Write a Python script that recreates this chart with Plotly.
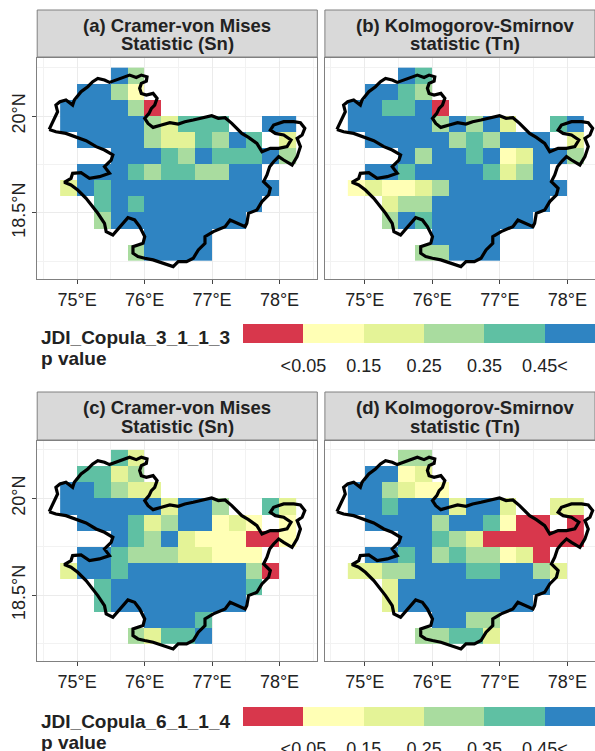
import plotly.graph_objects as go

W, H = 595, 751
H_LAYOUT = 760

# p-value classes: 0 <0.05, 1 0.15, 2 0.25, 3 0.35, 4 0.45, 5 >0.45, '.' no data
lon_centers = [74.875, 75.125, 75.375, 75.625, 75.875, 76.125, 76.375, 76.625, 76.875, 77.125, 77.375, 77.625, 77.875, 78.125]
lat_centers = [20.625, 20.375, 20.125, 19.875, 19.625, 19.375, 19.125, 18.875, 18.625, 18.375, 18.125, 17.875]

panel_a = ["...53.........", ".5531.........", "555530........", "5555532444..55",
           ".55553224354.2", "...55543544453", ".55543443355..", "254555555555 5.".replace(" ", "")[:14],
           "..454555555 5..".replace(" ", "")[:14], "..355555555...", ".....5555.....", "....35555....."]
panel_b = ["...54.........", ".5543.........", "554450........", "5555535352..45",
           ".55555343555.2", "...53554512553", ".55455554235..", "1211235555555.",
           "..2335555555..", "..354555555...", ".....5555.....", "....33555....."]
panel_c = ["...42.........", ".4423.........", "554322........", "5555552553..42",
           ".55542355121.1", "...54352111001", ".55433322111..", "2554555555530.",
           "..4555555554..", "..455555555...", ".....5554.....", "....32445....."]
panel_d = ["...33.........", ".5512.........", "553211........", "55455525 52..22".replace(" ", ""),
           ".55553554100.0", "...55432000000", ".55453433120..", "2233555445532.",
           "..2555555555..", "..255555555...", ".....5533.....", "....33442....."]

outline_lon = [74.588, 74.628, 74.663, 74.712, 74.687, 74.747, 74.836, 74.935, 74.960, 75.060, 75.159, 75.233,
               75.308, 75.407, 75.481, 75.581, 75.680, 75.779, 75.878, 75.953, 76.037, 76.027, 75.953, 75.928,
               75.953, 76.027, 76.127, 76.186, 76.151, 76.102, 76.067, 76.003, 76.052, 76.127, 76.251, 76.375,
               76.499, 76.598, 76.722, 76.846, 76.995, 77.094, 77.194, 77.293, 77.367, 77.442, 77.541, 77.665,
               77.740, 77.864, 77.988, 78.112, 78.171, 78.062, 77.938, 77.864, 77.913, 78.062, 78.211, 78.310,
               78.375, 78.335, 78.261, 78.310, 78.261, 78.186, 78.062, 77.988, 77.913, 77.854, 77.814, 77.764,
               77.864, 77.839, 77.740, 77.665, 77.541, 77.516, 77.491, 77.367, 77.268, 77.194, 77.020, 76.896,
               76.896, 76.797, 76.722, 76.623, 76.499, 76.424, 76.275, 76.127, 76.003, 75.903, 75.829, 75.829,
               75.978, 76.003, 75.928, 75.854, 75.754, 75.655, 75.531, 75.432, 75.407, 75.308, 75.233, 75.134,
               75.010, 74.911, 74.811, 74.911, 74.935, 75.060, 75.184, 75.333, 75.481, 75.407, 75.506, 75.531,
               75.407, 75.283, 75.134, 75.010, 74.836, 74.687, 74.588]
outline_lat = [19.793, 19.876, 19.964, 20.067, 20.170, 20.222, 20.248, 20.170, 20.248, 20.377, 20.455, 20.532,
               20.584, 20.558, 20.522, 20.558, 20.594, 20.635, 20.599, 20.635, 20.609, 20.542, 20.506, 20.429,
               20.351, 20.325, 20.351, 20.274, 20.170, 20.119, 20.041, 19.964, 19.886, 19.824, 19.861, 19.897,
               19.876, 19.912, 19.938, 19.964, 20.005, 19.964, 19.974, 19.886, 19.809, 19.731, 19.669, 19.576,
               19.447, 19.499, 19.499, 19.525, 19.628, 19.706, 19.731, 19.783, 19.861, 19.912, 19.912, 19.897,
               19.809, 19.706, 19.654, 19.525, 19.370, 19.241, 19.318, 19.370, 19.292, 19.215, 19.086, 18.983,
               18.879, 18.776, 18.673, 18.543, 18.492, 18.337, 18.285, 18.337, 18.389, 18.285, 18.208, 18.130,
               18.027, 17.924, 17.795, 17.743, 17.743, 17.665, 17.717, 17.769, 17.795, 17.820, 17.872, 17.975,
               18.027, 18.130, 18.285, 18.389, 18.425, 18.311, 18.156, 18.208, 18.337, 18.492, 18.595, 18.724,
               18.853, 18.931, 18.972, 19.034, 19.112, 19.122, 19.034, 19.060, 19.112, 19.215, 19.318, 19.396,
               19.473, 19.525, 19.618, 19.669, 19.731, 19.757, 19.793]

class_colors = ["#d8374c", "#ffffb5", "#e4f397", "#a9dc9f", "#5fc0a3", "#2f84c2"]
class_labels = ["<0.05", "0.15", "0.25", "0.35", "0.45<"]
x_tick_vals = [75, 76, 77, 78]
x_tick_text = ["75°E", "76°E", "77°E", "78°E"]
y_tick_vals = [20, 18.5]
y_tick_text = ["20°N", "18.5°N"]
x_minor_vals = [74.5, 75.5, 76.5, 77.5, 78.5]
y_minor_vals = [20.75, 19.25, 17.75]

titles = [("(a) Cramer-von Mises", "Statistic (Sn)"), ("(b) Kolmogorov-Smirnov", "statistic (Tn)"),
          ("(c) Cramer-von Mises", "Statistic (Sn)"), ("(d) Kolmogorov-Smirnov", "statistic (Tn)")]
legend_names = ["JDI_Copula_3_1_1_3", "JDI_Copula_6_1_1_4"]

FONT = "Liberation Sans"
TXT = "#222222"
BORDER = "#808080"
px_x = lambda p: p / W
px_y = lambda p: 1 - p / H_LAYOUT

scale = []
for i, c in enumerate(class_colors):
    scale += [[i / 6, c], [(i + 1) / 6, c]]

def parse(rows):
    return [[None if ch == "." else int(ch) for ch in r] for r in rows]

fig = go.Figure()
panels = [panel_a, panel_b, panel_c, panel_d]
# pixel boxes: left, right, top, bottom
boxes = [(37.2, 317.3, 58, 279), (324.9, 595, 58, 279), (37.2, 317.3, 441, 661), (324.9, 595, 441, 661)]
ranges_x = [(74.41, 78.56), (74.41, 78.41), (74.41, 78.56), (74.41, 78.41)]
ranges_y = [(17.473, 20.9), (17.473, 20.9), (17.478, 20.888), (17.478, 20.888)]
strips = [(10, 57), (10, 57), (392, 440), (392, 440)]
title_cx = [177, 465, 177, 465]
shapes, annos = [], []

for i, rows in enumerate(panels):
    n = i + 1
    sfx = "" if n == 1 else str(n)
    fig.add_trace(go.Heatmap(x=lon_centers, y=lat_centers, z=parse(rows), zmin=-0.5, zmax=5.5,
                             colorscale=scale, showscale=False, hoverongaps=False,
                             xaxis="x" + sfx, yaxis="y" + sfx))
    fig.add_trace(go.Scatter(x=outline_lon, y=outline_lat, mode="lines", showlegend=False,
                             line=dict(color="black", width=3.2), xaxis="x" + sfx, yaxis="y" + sfx))
    l, r, t, b = boxes[i]
    left_col = i % 2 == 0
    fig.update_layout({
        "xaxis" + sfx: dict(domain=[px_x(l), px_x(r)], range=list(ranges_x[i]), anchor="y" + sfx,
                            tickvals=x_tick_vals, ticktext=x_tick_text, ticks="outside", ticklen=4,
                            tickcolor="#444444", showgrid=True, gridcolor="#ebebeb", gridwidth=1, zeroline=False,
                            tickfont=dict(family=FONT, size=18, color=TXT), showline=True, mirror=True,
                            linecolor=BORDER, linewidth=1,
                            minor=dict(tickvals=x_minor_vals, showgrid=True, gridcolor="#f2f2f2", ticks="")),
        "yaxis" + sfx: dict(domain=[px_y(b), px_y(t)], range=list(ranges_y[i]), anchor="x" + sfx,
                            tickvals=y_tick_vals if left_col else [], ticktext=y_tick_text if left_col else [],
                            ticks="outside" if left_col else "", ticklen=4, tickangle=-90, tickcolor="#444444",
                            showgrid=True, gridcolor="#ebebeb", gridwidth=1, zeroline=False,
                            tickfont=dict(family=FONT, size=18, color=TXT), showline=True, mirror=left_col,
                            linecolor=BORDER, linewidth=1,
                            minor=dict(tickvals=y_minor_vals, showgrid=True, gridcolor="#f2f2f2", ticks="")),
    })
    st, sb = strips[i]
    shapes.append(dict(type="rect", xref="paper", yref="paper", x0=px_x(l), x1=min(px_x(r), 1.01),
                       y0=px_y(sb), y1=px_y(st), fillcolor="#d9d9d9", line=dict(color=BORDER, width=1)))
    for line, cy in zip(titles[i], (st + 15, st + 34)):
        annos.append(dict(text=f"<b>{line}</b>", xref="paper", yref="paper", x=px_x(title_cx[i]), y=px_y(cy),
                          showarrow=False, xanchor="center", yanchor="middle",
                          font=dict(family=FONT, size=18.5, color=TXT)))

# class legends
legend_boxes = [(324, 343), (707, 726)]
legend_text_y = [(338, 358), (721, 742)]
for j, (bt, bb) in enumerate(legend_boxes):
    n = 5 + j
    fig.add_trace(go.Heatmap(x=[0, 1, 2, 3, 4, 5], y=[0], z=[[0, 1, 2, 3, 4, 5]], zmin=-0.5, zmax=5.5,
                             colorscale=scale, showscale=False, hoverinfo="skip",
                             xaxis=f"x{n}", yaxis=f"y{n}"))
    fig.update_layout({
        f"xaxis{n}": dict(domain=[px_x(243), 1], range=[-0.5, 5.33], anchor=f"y{n}", showgrid=False, zeroline=False,
                          tickvals=[0.5, 1.5, 2.5, 3.5, 4.5], ticktext=class_labels, ticks="outside", ticklen=6,
                          tickcolor="rgba(0,0,0,0)", tickfont=dict(family=FONT, size=18, color=TXT)),
        f"yaxis{n}": dict(domain=[px_y(bb), px_y(bt)], range=[-0.5, 0.5], anchor=f"x{n}", visible=False),
    })
    for txt, cy in zip((legend_names[j], "p value"), legend_text_y[j]):
        annos.append(dict(text=f"<b>{txt}</b>", xref="paper", yref="paper", x=px_x(39), y=px_y(cy),
                          showarrow=False, xanchor="left", yanchor="middle",
                          font=dict(family=FONT, size=19, color=TXT)))

fig.update_layout(width=W, height=H_LAYOUT, margin=dict(l=0, r=0, t=0, b=0), plot_bgcolor="white", paper_bgcolor="white",
                  shapes=shapes, annotations=annos, showlegend=False)
fig.write_html("out.html", config={"displayModeBar": False},
               post_script="document.body.style.margin='0';document.documentElement.style.overflow='hidden';")
